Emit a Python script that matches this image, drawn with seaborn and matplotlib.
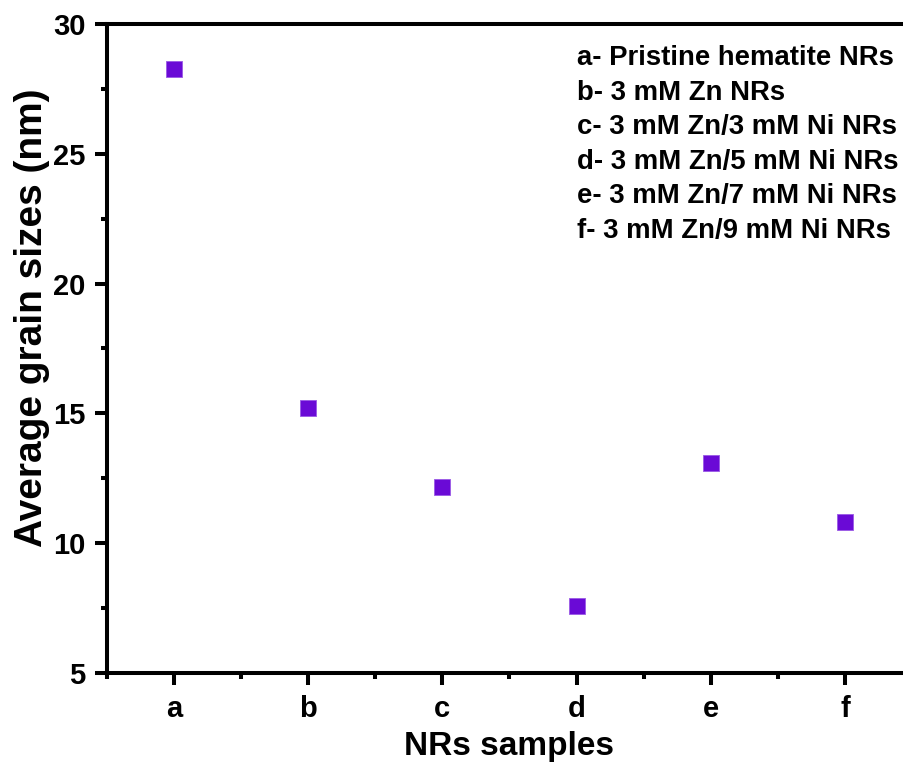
import matplotlib
matplotlib.use("Agg")
import matplotlib.pyplot as plt
import seaborn as sns
import pandas as pd
from matplotlib.ticker import MultipleLocator

samples = ["a", "b", "c", "d", "e", "f"]
grain_sizes = [28.25, 15.22, 12.16, 7.58, 13.09, 10.82]
descriptions = [
    "a- Pristine hematite NRs",
    "b- 3 mM Zn NRs",
    "c- 3 mM Zn/3 mM Ni NRs",
    "d- 3 mM Zn/5 mM Ni NRs",
    "e- 3 mM Zn/7 mM Ni NRs",
    "f- 3 mM Zn/9 mM Ni NRs",
]

sns.set_style("ticks")
plt.rcParams["font.family"] = ["Liberation Sans", "DejaVu Sans"]
plt.rcParams["font.weight"] = "bold"
plt.rcParams["text.color"] = "black"
plt.rcParams["axes.labelcolor"] = "black"
plt.rcParams["xtick.color"] = "black"
plt.rcParams["ytick.color"] = "black"

df = pd.DataFrame({"sample": samples, "size": grain_sizes})

W, H = 904, 765
fig = plt.figure(figsize=(W / 100, H / 100), dpi=100)
ax = fig.add_axes([107 / W, 1 - 673 / H, (912 - 107) / W, (673 - 24) / H])

sns.scatterplot(data=df, x="sample", y="size", ax=ax, marker="s", s=135,
                color="#6a0ad6", edgecolor="#9a5ae6", linewidth=0.6, zorder=3)

ax.set_xlim(-0.5, 5.5)
ax.set_ylim(5, 30)
ax.yaxis.set_major_locator(MultipleLocator(5))
ax.yaxis.set_minor_locator(MultipleLocator(2.5))
ax.xaxis.set_minor_locator(MultipleLocator(0.5))

for sp in ax.spines.values():
    sp.set_linewidth(2.9)
    sp.set_color("black")
    sp.set_visible(True)

ax.tick_params(axis="both", which="major", direction="out", length=8.5, width=2.9,
               labelsize=21, pad=7, colors="black")
ax.tick_params(axis="both", which="minor", direction="out", length=4, width=2.9,
               colors="black")
ax.tick_params(top=False, right=False, which="both")
for lab in ax.get_xticklabels() + ax.get_yticklabels():
    lab.set_fontweight("bold")

ax.set_xlabel("NRs samples", fontsize=24, fontweight="bold", labelpad=6)
ax.set_ylabel("Average grain sizes (nm)", fontsize=28, fontweight="bold")
ax.yaxis.set_label_coords((50 - 107) / 805, (673 - 318) / 649)

for i, line in enumerate(descriptions):
    fig.text(577 / W, 1 - (65 + 34.6 * i) / H, line, ha="left", va="baseline",
             fontsize=19.8, fontweight="bold", color="black")

fig.savefig("out.png", dpi=100)
